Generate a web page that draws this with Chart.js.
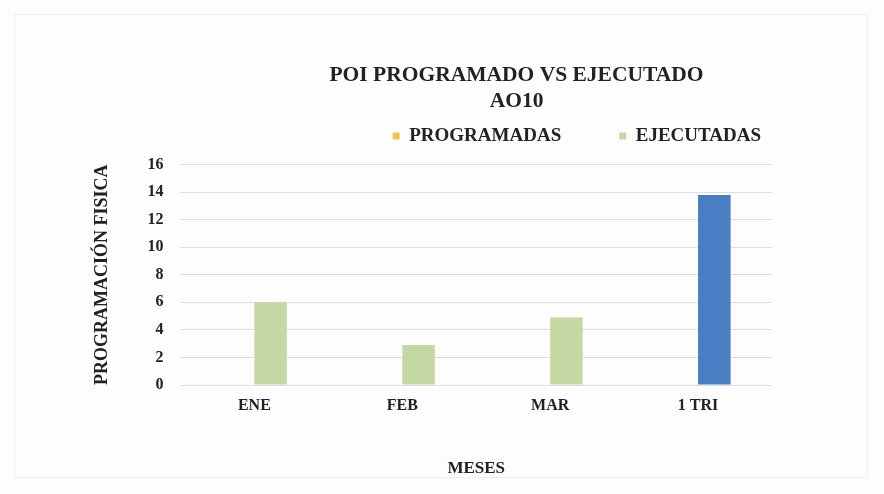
<!DOCTYPE html>
<html lang="es">
<head>
<meta charset="utf-8">
<title>POI programado vs ejecutado AO10</title>
<script src="https://cdn.jsdelivr.net/npm/chart.js@4.4.1/dist/chart.umd.min.js"></script>
<style>
    html, body { margin: 0; padding: 0; background: #fdfdfd; }
    #wrap { position: relative; width: 884px; height: 494px; }
    #frame { position: absolute; left: 14px; top: 14px; width: 852px; height: 462px; border: 1px solid #eeeeee; }
</style>
</head>
<body>
<div id="wrap">
    <div id="frame"></div>
    <canvas id="chart"></canvas>
</div>
<script>
// Datos
const meses = ['ENE', 'FEB', 'MAR', '1 TRI'];
const programadas = [0, 0, 0, 0];
const ejecutadas = [6, 2.9, 4.9, 13.8];
const yTicks = [0, 2, 4, 6, 8, 10, 12, 14, 16];

// Colores
const colorProgramadas = '#f4c451';
const colorEjecutadas = '#c5d8a4';
const colorTrimestre = '#4a7ec4';
const textColor = '#222';
const serif = "'Liberation Serif', 'Times New Roman', serif";

// Ajuste fino de título y leyenda (el original no está centrado)
const nudgePlugin = {
    id: 'nudge',
    afterLayout(chart) {
        const t = chart.titleBlock;
        t.left += 107;
        t.right += 107;
        const l = chart.legend;
        l.left += 47;
        l.right += 47;
        l.top -= 9;
        l.bottom -= 9;
    }
};

const ctx = document.getElementById('chart');

new Chart(ctx, {
    type: 'bar',
    data: {
        labels: meses,
        datasets: [
            {
                label: 'PROGRAMADAS',
                data: programadas,
                backgroundColor: colorProgramadas
            },
            {
                label: 'EJECUTADAS',
                data: ejecutadas,
                // el acumulado trimestral va en azul
                backgroundColor: (c) => c.dataIndex === 3 ? colorTrimestre : colorEjecutadas
            }
        ]
    },
    options: {
        responsive: true,
        maintainAspectRatio: false,
        animation: false,
        categoryPercentage: 0.44,
        barPercentage: 1,
        layout: {
            padding: { top: 0, left: 47, right: 112, bottom: 10 }
        },
        plugins: {
            title: {
                display: true,
                text: ['POI PROGRAMADO VS EJECUTADO', 'AO10'],
                color: textColor,
                font: { family: serif, size: 21.5, weight: 'bold', lineHeight: 1.2 },
                padding: { top: 63, bottom: -37 }
            },
            legend: {
                display: true,
                position: 'top',
                align: 'end',
                labels: {
                    color: textColor,
                    font: { family: serif, size: 19, weight: 'bold' },
                    boxWidth: 7,
                    boxHeight: 7,
                    padding: 58
                }
            },
            tooltip: { enabled: false }
        },
        scales: {
            x: {
                grid: { display: false, drawTicks: false },
                border: { display: false },
                ticks: {
                    color: textColor,
                    font: { family: serif, size: 16, weight: 'bold', lineHeight: 1.2 },
                    padding: 11
                },
                title: {
                    display: true,
                    text: 'MESES',
                    color: textColor,
                    font: { family: serif, size: 17, weight: 'bold', lineHeight: 1.2 },
                    padding: { top: 32.6, bottom: 4.8 }
                }
            },
            y: {
                min: 0,
                max: 16,
                afterBuildTicks: (scale) => {
                    scale.ticks = yTicks.map(v => ({ value: v }));
                },
                grid: { color: '#dedede', lineWidth: 1, drawTicks: false },
                border: { display: false },
                ticks: {
                    color: textColor,
                    font: { family: serif, size: 16, weight: 'bold' },
                    padding: 17
                },
                title: {
                    display: true,
                    text: 'PROGRAMACIÓN FISICA',
                    color: textColor,
                    font: { family: serif, size: 18, weight: 'bold', lineHeight: 1.2 },
                    padding: { top: 44.2, bottom: 17.6 }
                }
            }
        }
    },
    plugins: [nudgePlugin]
});
</script>
</body>
</html>
